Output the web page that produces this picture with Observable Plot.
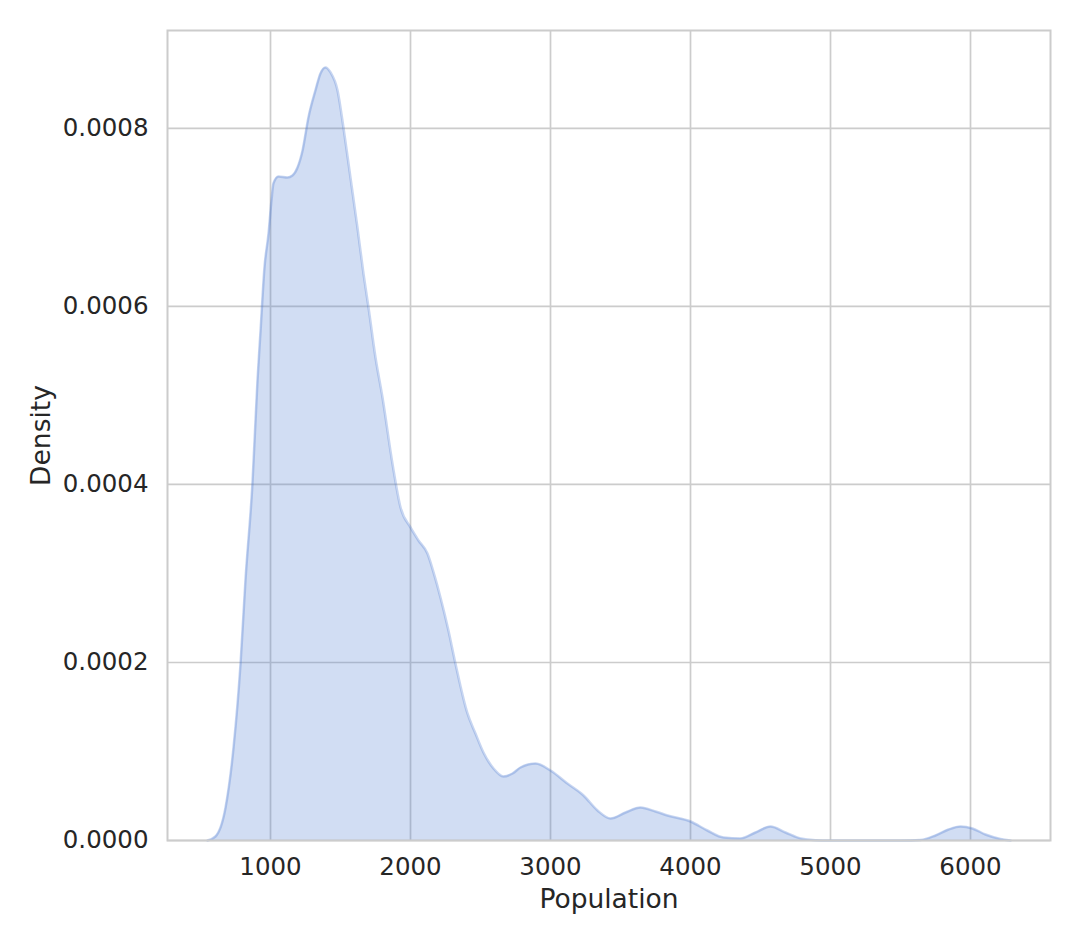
<!DOCTYPE html>
<html>
<head>
<meta charset="utf-8">
<script src="https://cdn.jsdelivr.net/npm/d3@7"></script>
<script src="https://cdn.jsdelivr.net/npm/@observablehq/plot@0.6"></script>
<style>
  html, body { margin: 0; padding: 0; background: #fff; }
  #chart { width: 1080px; height: 945px; }
  svg { font-family: "DejaVu Sans", sans-serif; }
</style>
</head>
<body>
<div id="chart"></div>
<script>
// KDE curve (population vs density, density as pixel rows converted below)
const population = [550, 607, 679, 736, 786, 821, 871, 907, 929, 957, 986, 1007, 1021, 1057, 1121, 1157, 1193, 1229, 1271, 1321, 1357, 1393, 1429, 1479, 1521, 1571, 1621, 1664, 1700, 1750, 1800, 1871, 1929, 2000, 2057, 2121, 2171, 2214, 2271, 2321, 2407, 2464, 2521, 2593, 2664, 2729, 2786, 2893, 3000, 3121, 3236, 3336, 3429, 3536, 3643, 3750, 3836, 4000, 4121, 4236, 4357, 4464, 4571, 4679, 4786, 4893, 5000, 5250, 5500, 5643, 5750, 5843, 5929, 6014, 6107, 6214, 6286];
const densityPx = [840, 836, 807, 747, 663, 580, 483, 380, 330, 267, 233, 200, 183, 176, 177, 175, 167, 150, 117, 90, 73, 67, 72, 90, 127, 177, 227, 273, 307, 357, 397, 463, 507, 527, 540, 553, 575, 597, 630, 663, 713, 733, 752, 768, 776, 773, 767, 763, 770, 783, 795, 810, 818, 812, 807, 811, 815, 821, 830, 837, 838, 832, 826, 832, 838, 839.7, 840, 840, 840, 839.5, 835, 829, 826, 828, 834, 838.5, 840];
const density = densityPx.map(p => (840 - p) / 890000);

const xTicks = [1000, 2000, 3000, 4000, 5000, 6000];
const yTicks = [0, 0.0002, 0.0004, 0.0006, 0.0008];
const xLabel = "Population";
const yLabel = "Density";

const data = population.map((p, i) => ({population: p, density: density[i]}));

const blue = "#4878d0";
const chart = Plot.plot({
  width: 1080,
  height: 945,
  marginLeft: 167,
  marginRight: 30,
  marginTop: 30,
  marginBottom: 105,
  style: {fontSize: "24.5px", fontFamily: "DejaVu Sans, sans-serif", color: "#262626", background: "#fff"},
  x: {domain: [264.3, 6571.4]},
  y: {domain: [0, 0.00091]},
  marks: [
    Plot.gridX(xTicks, {stroke: "#cccccc", strokeOpacity: 1, strokeWidth: 1.7}),
    Plot.gridY(yTicks, {stroke: "#cccccc", strokeOpacity: 1, strokeWidth: 1.7}),
    Plot.areaY(data, {x: "population", y: "density", fill: blue, fillOpacity: 0.25, curve: "monotone-x"}),
    Plot.lineY(data, {x: "population", y: "density", stroke: blue, strokeOpacity: 0.3, strokeWidth: 2.5, curve: "monotone-x"}),
    Plot.frame({stroke: "#cccccc", strokeWidth: 2}),
    Plot.axisX(xTicks, {tickSize: 0, tickPadding: 17, tickFormat: d => String(d), label: null, fontSize: 24.5}),
    Plot.axisY(yTicks, {tickSize: 0, tickPadding: 19, tickFormat: d => d.toFixed(4), label: null, fontSize: 24.5}),
    Plot.text([xLabel], {frameAnchor: "bottom", dy: 59, text: d => d, fontSize: 26.5, fill: "#262626", textAnchor: "middle", lineAnchor: "middle"}),
    Plot.text([yLabel], {frameAnchor: "left", dx: -126, rotate: -90, text: d => d, fontSize: 26.5, fill: "#262626", textAnchor: "middle", lineAnchor: "middle"})
  ]
});
document.getElementById("chart").appendChild(chart);
</script>
</body>
</html>
